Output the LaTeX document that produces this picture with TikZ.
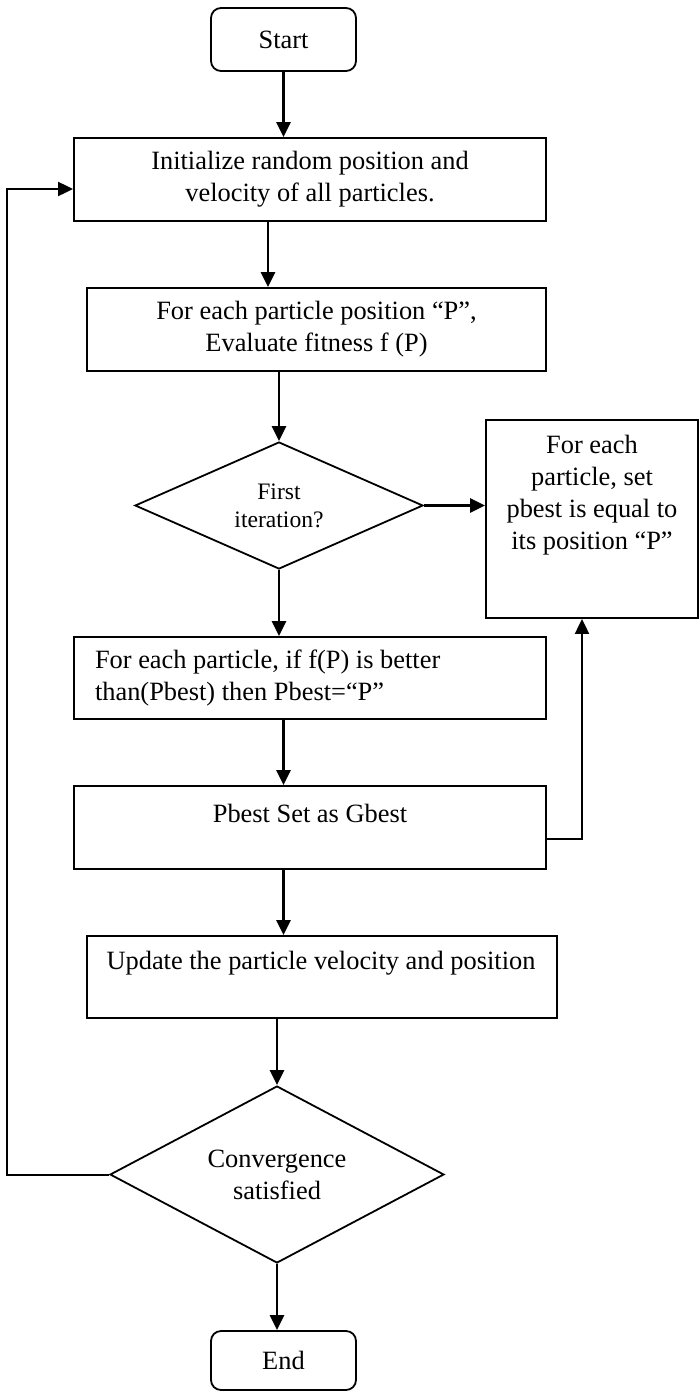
\documentclass[tikz,border=0pt]{standalone}
\usepackage{fontspec}
\setmainfont{Liberation Serif}
\usetikzlibrary{shapes.geometric}
\usetikzlibrary{arrows.meta}
\tikzstyle{process} = [draw, rectangle, line width=0.9pt, inner sep=0pt]
\tikzstyle{terminal} = [process, rounded corners=5pt, minimum width=72.5pt, minimum height=31.5pt]
\tikzstyle{decision} = [draw, diamond, line width=0.9pt, inner sep=0pt, align=center]
\tikzstyle{flow} = [->, line width=1.3pt]
\tikzset{>={Triangle[length=7.5pt, width=7pt]}}

\begin{document}
\begin{tikzpicture}[x=0.5pt, y=-0.5pt, font=\fontsize{13.2}{16}\selectfont]
  \useasboundingbox (0,0) rectangle (700,1392);
  % Terminals
  \node[terminal] (start) at (283.5,39.5) {Start};
  \node[terminal, minimum height=29.5pt] (end) at (283.5,1360.5) {End};
  % Process boxes
  \node[process, minimum width=236pt, minimum height=41.5pt, align=center] (init) at (310,179.5) {Initialize random position and\\velocity of all particles.};
  \node[process, minimum width=229.5pt, minimum height=41.5pt, align=center] (eval) at (316.5,329.5) {For each particle position “P”,\\Evaluate fitness f (P)};
  \node[process, minimum width=236pt, minimum height=41pt, text width=215pt, align=flush left] (compare) at (310,678) {For each particle, if f(P) is better\\than(Pbest) then Pbest=“P”};
  \node[process, minimum width=236pt, minimum height=41.5pt] (gbest) at (310,827.5) {};
  \node (gbesttext) at (310,813) {Pbest Set as Gbest};
  \node[process, minimum width=235pt, minimum height=41pt] (update) at (322,977) {};
  \node (updatetext) at (321,963) {Update the particle velocity and position};
  \node[process, minimum width=106pt, minimum height=99pt] (pinit) at (592,519) {};
  \node[align=center] (pinittext) at (592,495) {For each\\particle, set\\pbest is equal to\\its position “P”};
  % Decisions
  \node[decision, aspect=2.27, minimum width=144pt, minimum height=63.5pt, font=\fontsize{11.8}{14}\selectfont] (first) at (279,505.5) {First\\iteration?};
  \node[decision, aspect=1.9, minimum width=167pt, minimum height=88.5pt] (conv) at (277,1174.5) {Convergence\\satisfied};
  \coordinate (loopx) at (7,0);
  % Arrows
  \draw[flow] (start.south) -- (start.south |- init.north);
  \draw[flow] ([xshift=-21pt]init.south) -- ([xshift=-21pt]init.south |- eval.north);
  \draw[flow] (first.north |- eval.south) -- (first.north);
  \draw[flow] (first.east) -- (first.east -| pinit.west);
  \draw[flow] (first.south) -- (first.south |- compare.north);
  \draw[flow] (compare.south -| start.south) -- (gbest.north -| start.south);
  \draw[flow, line width=1pt] ([yshift=-5.75pt]gbest.east) -| ([xshift=-5pt]pinit.south);
  \draw[flow] (gbest.south -| start.south) -- (update.north -| start.south);
  \draw[flow] (update.south -| conv.north) -- (conv.north);
  \draw[flow] (conv.south) -- (conv.south |- end.north);
  % Loop back
  \draw[flow, line width=1pt] (conv.west) -- (conv.west -| loopx) |- ([yshift=-4.75pt]init.west);
\end{tikzpicture}
\end{document}
